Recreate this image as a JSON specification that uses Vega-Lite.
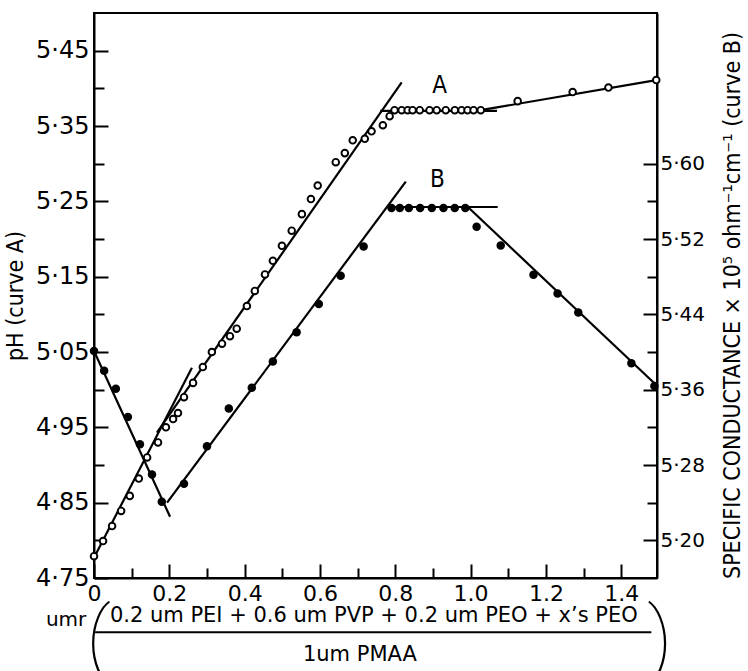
{
  "$schema": "https://vega.github.io/schema/vega-lite/v6.json",
  "width": 563,
  "height": 565,
  "autosize": {"type": "none"},
  "padding": {"left": 94, "top": 13, "right": 91, "bottom": 93},
  "background": "white",
  "config": {
    "view": {"stroke": "black", "strokeWidth": 2},
    "font": "DejaVu Sans",
    "axis": {
      "domainColor": "black",
      "domainWidth": 2,
      "tickColor": "black",
      "tickWidth": 2,
      "grid": false,
      "labelColor": "black",
      "titleColor": "black",
      "labelFontSize": 24,
      "titleFontSize": 23,
      "titleFontWeight": "normal",
      "labelFont": "DejaVu Sans",
      "titleFont": "Liberation Sans Narrow, DejaVu Sans Condensed, sans-serif"
    }
  },
  "datasets": {
    "curveA": [
      {"x": 0.0, "ph": 4.779}, {"x": 0.024, "ph": 4.799}, {"x": 0.048, "ph": 4.819},
      {"x": 0.072, "ph": 4.839}, {"x": 0.095, "ph": 4.859}, {"x": 0.119, "ph": 4.882},
      {"x": 0.141, "ph": 4.91}, {"x": 0.17, "ph": 4.93}, {"x": 0.191, "ph": 4.95},
      {"x": 0.21, "ph": 4.961}, {"x": 0.223, "ph": 4.969}, {"x": 0.239, "ph": 4.99},
      {"x": 0.263, "ph": 5.009}, {"x": 0.289, "ph": 5.03}, {"x": 0.313, "ph": 5.05},
      {"x": 0.34, "ph": 5.061}, {"x": 0.361, "ph": 5.071}, {"x": 0.379, "ph": 5.081},
      {"x": 0.406, "ph": 5.111}, {"x": 0.427, "ph": 5.131}, {"x": 0.454, "ph": 5.153},
      {"x": 0.475, "ph": 5.171}, {"x": 0.499, "ph": 5.191}, {"x": 0.525, "ph": 5.211},
      {"x": 0.552, "ph": 5.233}, {"x": 0.576, "ph": 5.253}, {"x": 0.594, "ph": 5.271},
      {"x": 0.642, "ph": 5.302}, {"x": 0.666, "ph": 5.314}, {"x": 0.687, "ph": 5.331},
      {"x": 0.719, "ph": 5.333}, {"x": 0.737, "ph": 5.343}, {"x": 0.767, "ph": 5.351},
      {"x": 0.785, "ph": 5.363}, {"x": 0.798, "ph": 5.371}, {"x": 0.817, "ph": 5.371},
      {"x": 0.833, "ph": 5.371}, {"x": 0.846, "ph": 5.371}, {"x": 0.865, "ph": 5.371},
      {"x": 0.891, "ph": 5.371}, {"x": 0.91, "ph": 5.371}, {"x": 0.934, "ph": 5.371},
      {"x": 0.958, "ph": 5.371}, {"x": 0.976, "ph": 5.371}, {"x": 0.992, "ph": 5.371},
      {"x": 1.008, "ph": 5.371}, {"x": 1.027, "ph": 5.371}, {"x": 1.125, "ph": 5.383},
      {"x": 1.271, "ph": 5.395}, {"x": 1.366, "ph": 5.401}, {"x": 1.493, "ph": 5.411}
    ],
    "curveB": [
      {"x": 0.0, "cond": 5.401}, {"x": 0.027, "cond": 5.38}, {"x": 0.058, "cond": 5.361},
      {"x": 0.09, "cond": 5.331}, {"x": 0.122, "cond": 5.302}, {"x": 0.154, "cond": 5.27},
      {"x": 0.18, "cond": 5.241}, {"x": 0.239, "cond": 5.26}, {"x": 0.3, "cond": 5.3},
      {"x": 0.358, "cond": 5.34}, {"x": 0.419, "cond": 5.362}, {"x": 0.475, "cond": 5.39},
      {"x": 0.538, "cond": 5.421}, {"x": 0.597, "cond": 5.451}, {"x": 0.655, "cond": 5.481},
      {"x": 0.716, "cond": 5.512}, {"x": 0.79, "cond": 5.553}, {"x": 0.812, "cond": 5.553},
      {"x": 0.836, "cond": 5.553}, {"x": 0.866, "cond": 5.553}, {"x": 0.897, "cond": 5.553},
      {"x": 0.928, "cond": 5.553}, {"x": 0.958, "cond": 5.553}, {"x": 0.986, "cond": 5.553},
      {"x": 1.016, "cond": 5.533}, {"x": 1.08, "cond": 5.513}, {"x": 1.167, "cond": 5.482},
      {"x": 1.231, "cond": 5.462}, {"x": 1.286, "cond": 5.442}, {"x": 1.427, "cond": 5.388},
      {"x": 1.488, "cond": 5.364}
    ],
    "fitA": [
      {"seg": "a1", "x": 0.0, "ph": 4.777}, {"seg": "a1", "x": 0.26, "ph": 5.029},
      {"seg": "a2", "x": 0.167, "ph": 4.943}, {"seg": "a2", "x": 0.817, "ph": 5.408},
      {"seg": "a3", "x": 0.76, "ph": 5.37}, {"seg": "a3", "x": 1.07, "ph": 5.37},
      {"seg": "a4", "x": 1.027, "ph": 5.371}, {"seg": "a4", "x": 1.493, "ph": 5.411}
    ],
    "fitB": [
      {"seg": "b1", "x": 0.0, "cond": 5.401}, {"seg": "b1", "x": 0.202, "cond": 5.225},
      {"seg": "b2", "x": 0.194, "cond": 5.24}, {"seg": "b2", "x": 0.828, "cond": 5.581},
      {"seg": "b3", "x": 0.78, "cond": 5.554}, {"seg": "b3", "x": 1.072, "cond": 5.554},
      {"seg": "b4", "x": 0.99, "cond": 5.555}, {"seg": "b4", "x": 1.493, "cond": 5.365}
    ],
    "curveNames": [
      {"x": 0.918, "ph": 5.403, "name": "A"},
      {"x": 0.912, "ph": 5.278, "name": "B"}
    ],
    "xTitleUmr": [
      {"x": -0.074, "ph": 4.694, "txt": "umr"}
    ],
    "xTitleText": [
      {"x": 0.743, "ph": 4.699, "txt": "0.2 um PEI + 0.6 um PVP + 0.2 um PEO + x’s PEO"},
      {"x": 0.706, "ph": 4.648, "txt": "1um PMAA"}
    ],
    "xTitleParens": [
      {"x": 0.012, "ph": 4.665, "txt": "("},
      {"x": 1.503, "ph": 4.665, "txt": ")"}
    ],
    "xTitleBar": [
      {"x": 0.003, "x2": 1.48, "ph": 4.678}
    ]
  },
  "layer": [
    {
      "layer": [
        {
          "data": {"name": "fitA"},
          "mark": {"type": "line", "color": "black", "strokeWidth": 2.2},
          "encoding": {
            "x": {
              "field": "x", "type": "quantitative",
              "scale": {"domain": [0, 1.495], "nice": false, "zero": false},
              "axis": {
                "title": null,
                "values": [0, 0.1, 0.2, 0.3, 0.4, 0.5, 0.6, 0.7, 0.8, 0.9, 1.0, 1.1, 1.2, 1.3, 1.4],
                "labelExpr": "round(datum.value*10) % 2 == 0 ? (datum.value == 0 ? '0' : format(datum.value, '.1f')) : ''",
                "tickSize": {"condition": {"test": "round(datum.value*10) % 2 == 0", "value": -14}, "value": -10},
                "labelFontSize": 22,
                "labelPadding": 19,
                "labelFlush": false,
                "labelOverlap": false
              }
            },
            "y": {
              "field": "ph", "type": "quantitative",
              "scale": {"domain": [4.75, 5.5], "nice": false, "zero": false},
              "axis": {
                "title": "pH (curve A)",
                "values": [4.75, 4.8, 4.85, 4.9, 4.95, 5.0, 5.05, 5.1, 5.15, 5.2, 5.25, 5.3, 5.35, 5.4, 5.45],
                "labelExpr": "round(datum.value*100) % 10 == 5 ? replace(format(datum.value, '.2f'), '.', '·') : ''",
                "tickSize": {"condition": {"test": "round(datum.value*100) % 10 == 5", "value": -14}, "value": -10},
                "labelPadding": 19,
                "labelOverlap": false,
                "labelFlush": false,
                "titlePadding": 8
              }
            },
            "detail": {"field": "seg"}
          }
        },
        {
          "data": {"name": "curveA"},
          "mark": {"type": "point", "shape": "circle", "filled": true, "fill": "white", "stroke": "black", "strokeWidth": 1.9, "size": 44, "opacity": 1},
          "encoding": {
            "x": {"field": "x", "type": "quantitative"},
            "y": {"field": "ph", "type": "quantitative"}
          }
        },
        {
          "data": {"name": "curveNames"},
          "mark": {"type": "text", "fontSize": 24, "font": "Liberation Sans Narrow, DejaVu Sans Condensed, sans-serif", "color": "black", "align": "center", "baseline": "middle"},
          "encoding": {
            "x": {"field": "x", "type": "quantitative"},
            "y": {"field": "ph", "type": "quantitative"},
            "text": {"field": "name"}
          }
        },
        {
          "data": {"name": "xTitleUmr"},
          "mark": {"type": "text", "fontSize": 20, "font": "DejaVu Sans", "color": "black", "align": "center", "baseline": "middle"},
          "encoding": {
            "x": {"field": "x", "type": "quantitative"},
            "y": {"field": "ph", "type": "quantitative"},
            "text": {"field": "txt"}
          }
        },
        {
          "data": {"name": "xTitleText"},
          "mark": {"type": "text", "fontSize": 21, "font": "DejaVu Sans", "color": "black", "align": "center", "baseline": "middle"},
          "encoding": {
            "x": {"field": "x", "type": "quantitative"},
            "y": {"field": "ph", "type": "quantitative"},
            "text": {"field": "txt"}
          }
        },
        {
          "data": {"name": "xTitleParens"},
          "mark": {"type": "text", "fontSize": 84, "fontWeight": 100, "font": "Roboto, Inter, DejaVu Sans", "color": "black", "align": "center", "baseline": "middle"},
          "encoding": {
            "x": {"field": "x", "type": "quantitative"},
            "y": {"field": "ph", "type": "quantitative"},
            "text": {"field": "txt"}
          }
        },
        {
          "data": {"name": "xTitleBar"},
          "mark": {"type": "rule", "color": "black", "strokeWidth": 2},
          "encoding": {
            "x": {"field": "x", "type": "quantitative"},
            "x2": {"field": "x2"},
            "y": {"field": "ph", "type": "quantitative"}
          }
        }
      ]
    },
    {
      "layer": [
        {
          "data": {"name": "fitB"},
          "mark": {"type": "line", "color": "black", "strokeWidth": 2.2},
          "encoding": {
            "x": {"field": "x", "type": "quantitative"},
            "y": {
              "field": "cond", "type": "quantitative",
              "scale": {"domain": [5.16, 5.76], "nice": false, "zero": false},
              "axis": {
                "orient": "right",
                "title": "SPECIFIC CONDUCTANCE × 10⁵ ohm⁻¹cm⁻¹ (curve B)",
                "titleAngle": 270,
                "titleFontSize": 23,
                "titleY": 292,
                "values": [5.2, 5.24, 5.28, 5.32, 5.36, 5.4, 5.44, 5.48, 5.52, 5.56, 5.6],
                "labelExpr": "(round(datum.value*100) - 520) % 8 == 0 ? replace(format(datum.value, '.2f'), '.', '·') : ''",
                "tickSize": {"condition": {"test": "(round(datum.value*100) - 520) % 8 == 0", "value": -14}, "value": -10},
                "labelFontSize": 20,
                "labelPadding": 17,
                "labelOverlap": false,
                "labelFlush": false,
                "titlePadding": 40
              }
            },
            "detail": {"field": "seg"}
          }
        },
        {
          "data": {"name": "curveB"},
          "mark": {"type": "point", "shape": "circle", "filled": true, "color": "black", "size": 72, "opacity": 1},
          "encoding": {
            "x": {"field": "x", "type": "quantitative"},
            "y": {"field": "cond", "type": "quantitative"}
          }
        }
      ]
    }
  ],
  "resolve": {"scale": {"y": "independent"}}
}
